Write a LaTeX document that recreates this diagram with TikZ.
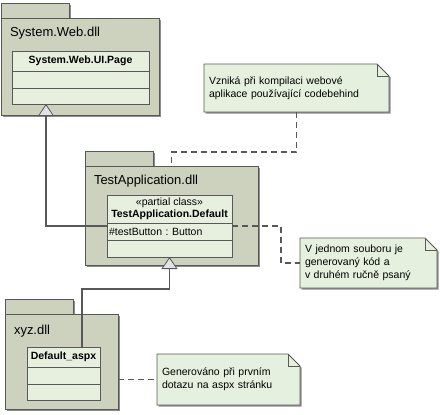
\documentclass[tikz,border=0pt]{standalone}
\usepackage{fontspec}
\setmainfont{Liberation Sans}
\usetikzlibrary{arrows.meta,positioning,shadows,backgrounds}
\frenchspacing

\definecolor{linegray}{RGB}{88,88,88}
\definecolor{pkgfill}{RGB}{204,210,190}
\definecolor{clsfill}{RGB}{231,240,223}
\definecolor{notefill}{RGB}{230,240,222}
\definecolor{tipfill}{RGB}{226,226,226}

\begin{document}
\begin{tikzpicture}[x=1pt,y=-1pt,%
    every node/.style={outer sep=0pt},%
    pkgbox/.style={draw=linegray,fill=pkgfill,line width=1pt,anchor=north west,inner sep=0pt,%
      drop shadow={shadow xshift=1.5pt,shadow yshift=-1.5pt,fill=black,opacity=.45}},%
    pkgtitle/.style={anchor=west,inner sep=0pt,font=\fontsize{13}{15}\selectfont},%
    clshead/.style={draw=linegray,fill=clsfill,line width=.8pt,anchor=north west,inner sep=0pt,%
      align=center,font=\fontsize{10.5}{12.5}\selectfont\bfseries},%
    clsrow/.style={draw=linegray,fill=clsfill,line width=.8pt,inner xsep=2pt,inner ysep=0pt,%
      align=left,font=\fontsize{10.5}{12.5}\selectfont},%
    notetext/.style={anchor=north west,align=left,inner xsep=5pt,inner ysep=0pt,%
      font=\fontsize{10.5}{13}\selectfont},%
    notebox/.style={draw=linegray,fill=notefill,line width=.8pt,%
      drop shadow={shadow xshift=1.5pt,shadow yshift=-1.5pt,fill=black,opacity=.45}},%
    notefold/.style={draw=linegray,line width=.6pt},%
    gen/.style={draw=linegray,line width=1.3pt,%
      -{Triangle[length=12pt,width=16pt,fill=tipfill,line width=.8pt]}},%
    link/.style={draw=linegray,line width=1.3pt,dash pattern=on 6pt off 4pt}%
  ]
  \useasboundingbox (0,0) rectangle (440,415);

  % System.Web.dll
  \node[pkgbox,minimum width=68pt,minimum height=15pt] (webtab) at (1,3) {};
  \node[pkgbox,minimum width=158pt,minimum height=97pt] (webpkg) at (1,18) {};
  \node[pkgtitle] (webtitle) at ([xshift=9pt,yshift=-15pt]webpkg.north west) {System.Web.dll};
  \node[clshead,minimum width=137pt,minimum height=20pt] (page) at (12,51) {System.Web.UI.Page};
  \node[clsrow,minimum width=137pt,minimum height=17pt,below=0pt of page] (pageattr) {};
  \node[clsrow,minimum width=137pt,minimum height=16pt,below=0pt of pageattr] (pageops) {};

  % TestApplication.dll
  \node[pkgbox,minimum width=68pt,minimum height=15pt] (apptab) at (85,151) {};
  \node[pkgbox,minimum width=173pt,minimum height=99pt] (apppkg) at (85,166) {};
  \node[pkgtitle] (apptitle) at ([xshift=9pt,yshift=-15pt]apppkg.north west) {TestApplication.dll};
  \node[clshead,minimum width=125pt,minimum height=28pt] (appdefault) at (107,195)
    {{\mdseries «partial class»}\\TestApplication.Default};
  \node[clsrow,text width=121pt,minimum height=17pt,below=0pt of appdefault] (appattr) {\#testButton : Button};
  \node[clsrow,text width=121pt,minimum height=17pt,below=0pt of appattr] (appops) {};

  % xyz.dll
  \node[pkgbox,minimum width=68pt,minimum height=15pt] (xyztab) at (5,299) {};
  \node[pkgbox,minimum width=113pt,minimum height=95pt] (xyzpkg) at (5,314) {};
  \node[pkgtitle] (xyztitle) at ([xshift=9pt,yshift=-17pt]xyzpkg.north west) {xyz.dll};
  \node[clshead,minimum width=73pt,minimum height=20pt] (aspx) at (27,347) {Default\_aspx};
  \node[clsrow,minimum width=73pt,minimum height=17pt,below=0pt of aspx] (aspxattr) {};
  \node[clsrow,minimum width=73pt,minimum height=16pt,below=0pt of aspxattr] (aspxops) {};

  % notes
  \node[notetext,text width=175pt,minimum height=48pt] (noteweb) at (204,64)
    {Vzniká při kompilaci webové\\aplikace používající codebehind};
  \node[notetext,text width=127pt,minimum height=50pt] (notepart) at (300,238)
    {V jednom souboru je\\generovaný kód a\\v druhém ručně psaný};
  \node[notetext,text width=133pt,minimum height=51pt] (noteaspx) at (157,354)
    {Generováno při prvním\\dotazu na aspx stránku};
  \begin{scope}[on background layer]
    \foreach \n in {noteweb,notepart,noteaspx}{%
      \draw[notebox] (\n.south west) -- (\n.north west) -- ([xshift=-12pt]\n.north east)
        -- ([yshift=-12pt]\n.north east) -- (\n.south east) -- cycle;%
      \draw[notefold] ([xshift=-12pt]\n.north east) |- ([yshift=-12pt]\n.north east);%
    }
  \end{scope}

  % connectors
  \draw[gen] ([yshift=-3pt]appattr.north west) -| ([xshift=34pt]pageops.south west);
  \draw[gen] ([xshift=55pt]aspx.north west) -- ++(0,-58) -| (appops.south);
  \draw[link] (noteweb.south) -- ++(0,40) -| (apppkg.north);
  \draw[link] ([yshift=-3pt]appattr.north east) -- ++(49,0) |- (notepart.west);
  \draw[link] (xyzpkg.east |- noteaspx.west) -- (noteaspx.west);
\end{tikzpicture}
\end{document}
